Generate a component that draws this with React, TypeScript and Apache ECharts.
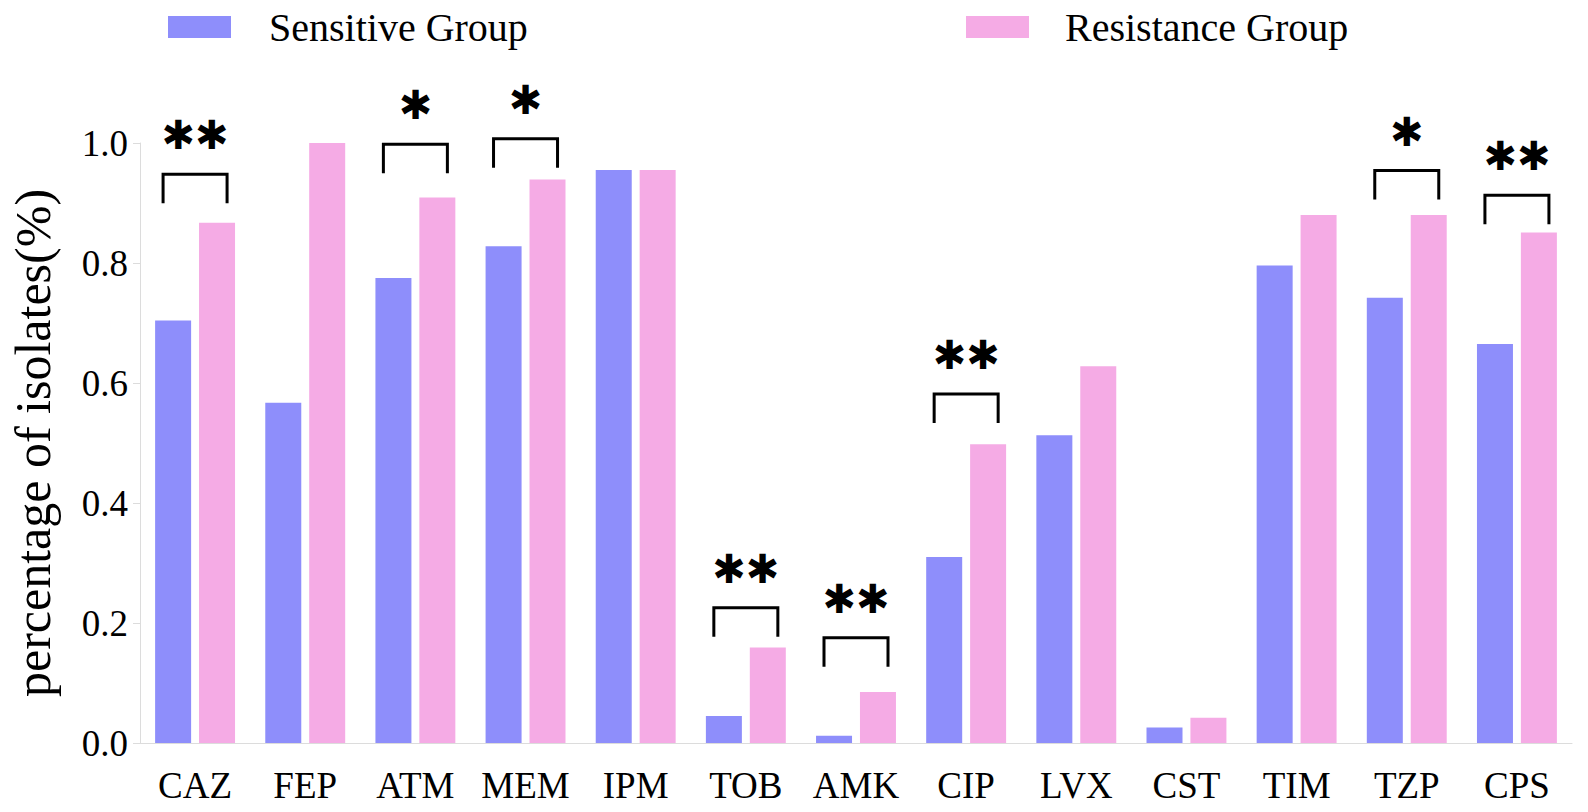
import React, { useEffect, useRef } from "react";
import * as echarts from "echarts";

const categories = ["CAZ", "FEP", "ATM", "MEM", "IPM", "TOB", "AMK", "CIP", "LVX", "CST", "TIM", "TZP", "CPS"];
const sensitive = [0.704, 0.567, 0.775, 0.828, 0.955, 0.045, 0.012, 0.31, 0.513, 0.026, 0.796, 0.742, 0.665];
const resistance = [0.867, 1.0, 0.909, 0.939, 0.955, 0.159, 0.085, 0.498, 0.628, 0.042, 0.88, 0.88, 0.851];

// significance brackets: category, height of bracket top, mark
const sigCategories = ["CAZ", "ATM", "MEM", "TOB", "AMK", "CIP", "TZP", "CPS"];
const sigLevels = [0.948, 0.998, 1.007, 0.2255, 0.1755, 0.5817, 0.954, 0.913];
const sigMarks = ["**", "*", "*", "**", "**", "**", "*", "**"];

const yTicks = [0, 0.2, 0.4, 0.6, 0.8, 1.0];

const SERIF = "Liberation Serif";
const BLUE = "#8e8efb";
const PINK = "#f5abe5";
const AXIS_GREY = "#dcdcdc";

const App = () => {
  const ref = useRef<HTMLDivElement>(null);

  useEffect(() => {
    const chart = echarts.init(ref.current, null, { renderer: "svg" });

    const legendText = { fontFamily: SERIF, fontSize: 40, color: "#000" };

    const option = {
      animation: false,
      backgroundColor: "#fff",
      textStyle: { fontFamily: SERIF },
      grid: { left: 137, right: 16, top: 143, bottom: 69 },
      legend: [
        {
          data: ["Sensitive Group"],
          left: 163,
          top: 2,
          icon: "rect",
          itemWidth: 63,
          itemHeight: 22,
          textStyle: { ...legendText, padding: [0, 0, 0, 33] },
        },
        {
          data: ["Resistance Group"],
          left: 961,
          top: 2,
          icon: "rect",
          itemWidth: 63,
          itemHeight: 22,
          textStyle: { ...legendText, padding: [0, 0, 0, 31] },
        },
      ],
      xAxis: {
        type: "category",
        data: categories,
        axisLine: { lineStyle: { color: AXIS_GREY, width: 1 } },
        axisTick: { alignWithLabel: true, length: 14, lineStyle: { color: AXIS_GREY } },
        axisLabel: { interval: 0, fontFamily: SERIF, fontSize: 37, color: "#000", margin: 24 },
      },
      yAxis: {
        type: "value",
        min: 0,
        max: 1,
        interval: 0.2,
        name: "percentage of isolates(%)",
        nameLocation: "middle",
        nameGap: 82,
        nameTextStyle: { fontFamily: SERIF, fontSize: 50, color: "#000" },
        axisLine: { show: true, lineStyle: { color: AXIS_GREY, width: 1 } },
        axisTick: { show: true, length: 7, lineStyle: { color: AXIS_GREY } },
        splitLine: { show: false },
        axisLabel: {
          fontFamily: SERIF,
          fontSize: 37,
          color: "#000",
          margin: 12,
          formatter: (v: number) => (yTicks.some((t) => Math.abs(t - v) < 1e-9) ? v.toFixed(1) : ""),
        },
      },
      series: [
        {
          name: "Sensitive Group",
          type: "bar",
          data: sensitive,
          barWidth: 36,
          barGap: "22%",
          itemStyle: { color: BLUE },
        },
        {
          name: "Resistance Group",
          type: "bar",
          data: resistance,
          barWidth: 36,
          itemStyle: { color: PINK },
        },
        {
          name: "sig",
          type: "custom",
          clip: false,
          silent: true,
          data: sigCategories.map((c, i) => [categories.indexOf(c), sigLevels[i]]),
          renderItem: (params: any, api: any) => {
            const p = api.coord([api.value(0), api.value(1)]);
            const x = p[0];
            const y = p[1];
            const half = 32;
            const leg = 29;
            const mark = sigMarks[params.dataIndex].replace(/\*/g, "\u2731");
            return {
              type: "group",
              children: [
                {
                  type: "polyline",
                  shape: {
                    points: [
                      [x - half, y + leg],
                      [x - half, y],
                      [x + half, y],
                      [x + half, y + leg],
                    ],
                  },
                  style: { stroke: "#000", lineWidth: 3, fill: null },
                },
                {
                  type: "text",
                  x: x,
                  y: y - 39,
                  style: {
                    text: mark,
                    fontFamily: "DejaVu Sans",
                    fontWeight: "bold",
                    fontSize: 40,
                    fill: "#000",
                    align: "center",
                    verticalAlign: "middle",
                  },
                },
              ],
            };
          },
        },
      ],
    };

    chart.setOption(option);
    return () => {
      chart.dispose();
    };
  }, []);

  return (
    <div
      ref={ref}
      style={{ position: "absolute", left: 0, top: 0, width: 1588, height: 812 }}
    ></div>
  );
};

export default App;
